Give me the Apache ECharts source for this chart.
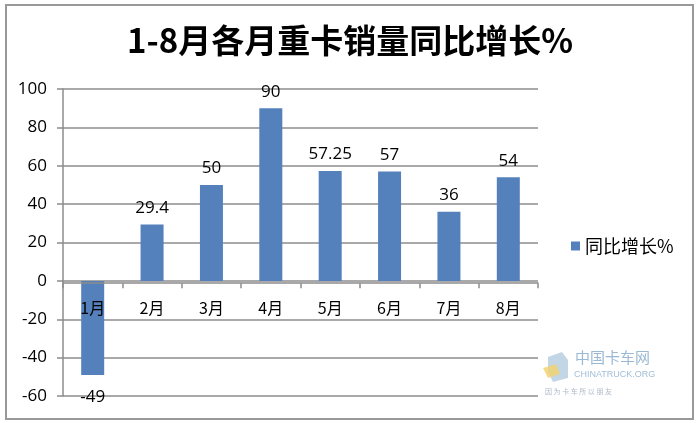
<!DOCTYPE html>
<html><head><meta charset="utf-8">
<script src="https://cdn.jsdelivr.net/npm/echarts@6/dist/echarts.min.js"></script>
<style>html,body{margin:0;padding:0;background:#fff}#c{width:700px;height:423px}</style>
</head><body><div id="c"></div>
<script>
const categories = ['1月','2月','3月','4月','5月','6月','7月','8月'];
const growth = [-49, 29.4, 50, 90, 57.25, 57, 36, 54];
const labelText = ['-49','29.4','50','90','57.25','57','36','54'];
const yTicks = [-60, -40, -20, 0, 20, 40, 60, 80, 100];
const seriesName = '同比增长%';
const titleText = '1-8月各月重卡销量同比增长%';

const font = '"Noto Sans CJK SC", "Noto Sans", sans-serif';
const numFont = '"Open Sans", "Noto Sans", sans-serif';
const yMin = yTicks[0], yMax = yTicks[yTicks.length-1];
const chart = echarts.init(document.getElementById('c'), null, {renderer:'canvas'});
chart.setOption({
  animation:false,
  backgroundColor:'#fff',
  title:{text:titleText,left:345,textAlign:'center',top:19,
    textStyle:{fontFamily:font,fontSize:33,fontWeight:'bold',color:'#000'}},
  legend:{data:[seriesName],left:566,top:232,icon:'rect',itemWidth:9,itemHeight:9,itemGap:6,
    textStyle:{fontFamily:font,fontSize:18,color:'#000'}},
  grid:{left:63,right:162,top:89,bottom:27},
  xAxis:{type:'category',data:categories,offset:0,z:5,
    axisLine:{onZero:false,lineStyle:{color:'#8c8c8c',width:1.5}},
    axisTick:{show:true,length:5,lineStyle:{color:'#8c8c8c',width:1.5}},
    axisLabel:{fontFamily:font,fontSize:16,color:'#000',margin:17},
    splitLine:{show:false}},
  yAxis:{type:'value',min:yMin,max:yMax,interval:yTicks[1]-yTicks[0],
    axisLine:{show:true,lineStyle:{color:'#8c8c8c',width:1.5}},
    axisTick:{show:true,length:6,lineStyle:{color:'#8c8c8c',width:1.5}},
    axisLabel:{fontFamily:numFont,fontSize:17,color:'#000',margin:16},
    splitLine:{lineStyle:{color:'#8c8c8c',width:1.5}}},
  series:[{name:seriesName,type:'bar',barWidth:23,z:2,
    itemStyle:{color:'#5480bb'},
    data:growth.map((v,i)=>({value:v,label:{show:true,
      position:v<0?'bottom':'top',distance:v<0?14:8,
      formatter:labelText[i],fontFamily:numFont,fontSize:17,color:'#000'}}))}],
  graphic:[
    {type:'rect',shape:{x:6,y:5,width:687,height:414},style:{fill:'none',stroke:'#999',lineWidth:2},silent:true},
    {type:'text',left:575,top:350,style:{text:'中国卡车网',fontFamily:font,fontSize:15,fill:'#7fa7c9',opacity:0.8}},
    {type:'text',left:574,top:370,style:{text:'CHINATRUCK.ORG',fontFamily:'Liberation Sans',fontSize:9,fill:'#8aaed0',opacity:0.8}},
    {type:'text',left:545,top:388,style:{text:'因 为 卡 车 所 以 朋 友',fontFamily:font,fontSize:7,fill:'#9ab',opacity:0.8}},
    {type:'polygon',shape:{points:[[548,357],[562,352],[568,360],[568,378],[553,382],[548,372]]},style:{fill:'#a9c4dc',opacity:0.7}},
    {type:'polygon',shape:{points:[[543,368],[556,364],[560,374],[548,378]]},style:{fill:'#f2d26b',opacity:0.8}}
  ]
});
// place the category axis on the zero line using the library's own value scale
const zeroPx = chart.convertToPixel({yAxisIndex:0}, 0);
const bottomPx = chart.convertToPixel({yAxisIndex:0}, yMin);
chart.setOption({xAxis:{offset:-(bottomPx - zeroPx)}});
</script></body></html>
